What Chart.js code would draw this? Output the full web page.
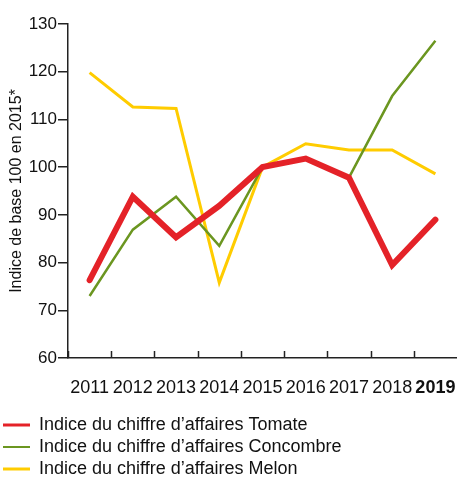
<!DOCTYPE html>
<html>
<head>
<meta charset="utf-8">
<script src="https://cdn.jsdelivr.net/npm/chart.js@4"></script>
<style>
  html, body { margin: 0; padding: 0; background: #fff; }
  #wrap { width: 457px; height: 477px; }
</style>
</head>
<body>
<div id="wrap"><canvas id="chart"></canvas></div>
<script>
const years = ['2011', '2012', '2013', '2014', '2015', '2016', '2017', '2018', '2019'];
const tomate = [76.3, 93.8, 85.3, 91.9, 100, 101.8, 97.8, 79.5, 89];
const concombre = [73, 86.9, 93.8, 83.5, 100, 101.8, 97.8, 114.9, 126.5];
const melon = [119.8, 112.6, 112.3, 75.8, 100, 104.9, 103.6, 103.6, 98.6];
const yTicks = [60, 70, 80, 90, 100, 110, 120, 130];

const fontFam = '"Liberation Sans", Arial, sans-serif';

// short upward ticks on the x axis, between categories
const xTickMarks = {
  id: 'xTickMarks',
  afterDraw(chart) {
    const x = chart.scales.x;
    const ctx = chart.ctx;
    const bottom = chart.chartArea.bottom;
    const half = (x.getPixelForValue(1) - x.getPixelForValue(0)) / 2;
    ctx.save();
    ctx.strokeStyle = '#222';
    ctx.lineWidth = 1.5;
    years.forEach((y, i) => {
      const px = Math.round(x.getPixelForValue(i) - half) + 0.5;
      ctx.beginPath();
      ctx.moveTo(px, bottom - 7);
      ctx.lineTo(px, bottom);
      ctx.stroke();
    });
    ctx.restore();
  }
};

new Chart(document.getElementById('chart'), {
  type: 'line',
  data: {
    labels: years,
    datasets: [
      {
        label: 'Indice du chiffre d\u2019affaires Tomate',
        data: tomate,
        borderColor: '#e42228',
        backgroundColor: '#e42228',
        borderWidth: 6,
        borderCapStyle: 'round',
        pointRadius: 0,
        tension: 0
      },
      {
        label: 'Indice du chiffre d\u2019affaires Concombre',
        data: concombre,
        borderColor: '#6b9620',
        backgroundColor: '#6b9620',
        borderWidth: 2.5,
        pointRadius: 0,
        tension: 0
      },
      {
        label: 'Indice du chiffre d\u2019affaires Melon',
        data: melon,
        borderColor: '#ffcc00',
        backgroundColor: '#ffcc00',
        borderWidth: 3,
        pointRadius: 0,
        tension: 0
      }
    ]
  },
  options: {
    responsive: true,
    maintainAspectRatio: false,
    animation: false,
    layout: { padding: { top: 24, right: 0, bottom: -11, left: -1 } },
    plugins: {
      tooltip: { enabled: false },
      legend: {
        position: 'bottom',
        align: 'start',
        labels: {
          usePointStyle: true,
          pointStyle: 'line',
          pointStyleWidth: 27,
          padding: 4,
          color: '#111',
          font: { family: fontFam, size: 18 },
          generateLabels(chart) {
            const items = Chart.defaults.plugins.legend.labels.generateLabels(chart);
            items.forEach(it => { it.lineWidth = it.datasetIndex === 1 ? 2 : 3; });
            return items;
          }
        }
      }
    },
    scales: {
      x: {
        offset: true,
        afterFit(scale) {
          scale.height = 54;
          scale.paddingLeft = 0;
          scale.paddingRight = 0;
        },
        grid: { display: true, drawOnChartArea: false, drawTicks: false },
        border: { display: true, color: '#222', width: 1.5 },
        ticks: {
          autoSkip: false,
          maxRotation: 0,
          padding: 19,
          color: '#111',
          font: (ctx) => ({
            family: fontFam,
            size: 18,
            weight: ctx.index === years.length - 1 ? 'bold' : 'normal'
          })
        }
      },
      y: {
        min: 60,
        max: 130,
        afterFit(scale) { scale.width = 69; },
        afterBuildTicks(scale) { scale.ticks = yTicks.map(v => ({ value: v })); },
        grid: {
          drawOnChartArea: false,
          drawTicks: true,
          tickLength: 10,
          color: '#222',
          lineWidth: 1.5
        },
        border: { display: true, color: '#222', width: 1.5 },
        ticks: {
          padding: 1,
          color: '#111',
          font: { family: fontFam, size: 17 }
        },
        title: {
          display: true,
          text: 'Indice de base 100 en 2015*',
          color: '#111',
          padding: { top: 8, bottom: 0 },
          font: { family: fontFam, size: 16 }
        }
      }
    }
  },
  plugins: [xTickMarks]
});
</script>
</body>
</html>
